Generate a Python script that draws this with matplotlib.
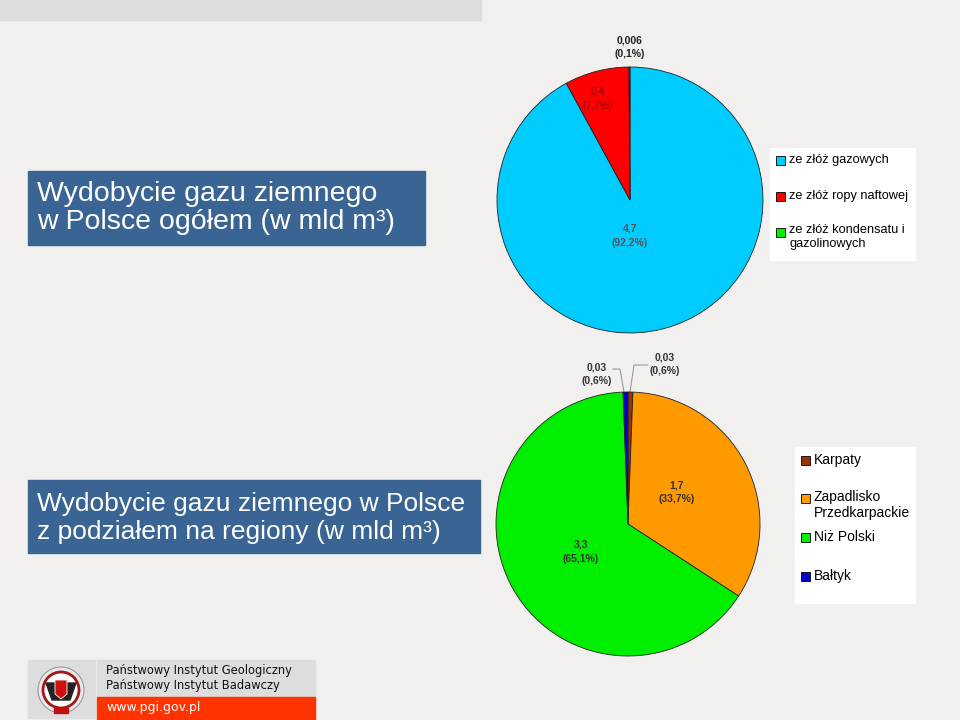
import matplotlib.pyplot as plt
from matplotlib.patches import Rectangle, Circle, Polygon

plt.rcParams["font.family"] = ["Liberation Sans", "DejaVu Sans"]

# -----------------------------
#  Data
# -----------------------------
src_labels = ["ze złóż gazowych", "ze złóż ropy naftowej", "ze złóż kondensatu i\ngazolinowych"]
src_values = [4.7, 0.4, 0.006]
src_text = ["4,7\n(92,2%)", "0,4\n(7,7%)", "0,006\n(0,1%)"]
src_colors = ["#00CCFF", "#FF0000", "#00EE00"]

reg_labels = ["Karpaty", "Zapadlisko\nPrzedkarpackie", "Niż Polski", "Bałtyk"]
reg_values = [0.03, 1.7, 3.3, 0.03]
reg_text = ["0,03\n(0,6%)", "1,7\n(33,7%)", "3,3\n(65,1%)", "0,03\n(0,6%)"]
reg_colors = ["#993300", "#FF9900", "#00EE00", "#0000CC"]

title1 = "Wydobycie gazu ziemnego\nw Polsce ogółem (w mld m³)"
title2 = "Wydobycie gazu ziemnego w Polsce\nz podziałem na regiony (w mld m³)"

BG = "#F1F0EE"
BOX = "#396493"

fig = plt.figure(figsize=(9.6, 7.2), dpi=100)
fig.patch.set_facecolor(BG)

# background canvas in pixel coordinates
bg = fig.add_axes([0, 0, 1, 1])
bg.set_xlim(0, 960)
bg.set_ylim(720, 0)
bg.axis("off")

bg.add_patch(Rectangle((0, 0), 481, 20, color="#DDDDDD"))

# title boxes
bg.add_patch(Rectangle((28, 171), 397, 74, color=BOX))
bg.text(37, 208, title1, color="white", fontsize=20.5, va="center", linespacing=1.12)
bg.add_patch(Rectangle((28, 480), 452, 73, color=BOX))
bg.text(37, 518, title2, color="white", fontsize=19, va="center", linespacing=1.22)


def legend_box(x0, y0, w, h, labels, colors, ys, fs):
    bg.add_patch(Rectangle((x0, y0), w, h, color="white"))
    for lab, c, y in zip(labels, colors, ys):
        bg.add_patch(Rectangle((x0 + 6, y - 4.5), 9, 9, facecolor=c,
                               edgecolor="black", linewidth=0.6))
        if "\n" in lab:
            bg.text(x0 + 19, y - 8, lab, fontsize=fs, va="top", linespacing=1.2)
        else:
            bg.text(x0 + 19, y, lab, fontsize=fs, va="center")


legend_box(770, 148, 145, 112, src_labels, src_colors, [160, 196, 232], 9.2)
legend_box(795, 447, 120, 156, reg_labels, reg_colors, [460, 498, 537, 576], 10)


def pie_axes(cx, cy, r):
    ax = fig.add_axes([(cx - r) / 960, (720 - cy - r) / 720, 2 * r / 960, 2 * r / 720])
    ax.set_xlim(-1, 1)
    ax.set_ylim(-1, 1)
    ax.axis("off")
    return ax


lab_kw = dict(fontsize=7.5, ha="center", va="center", linespacing=1.5)

# -----------------------------
#  Pie 1
# -----------------------------
ax1 = pie_axes(630, 200, 133)
ax1.pie(src_values, colors=src_colors, startangle=90, counterclock=False, radius=1,
        wedgeprops=dict(edgecolor="#222222", linewidth=0.6))
ax1.set_xlim(-1, 1)
ax1.set_ylim(-1, 1)
ax1.text(0.0, -0.27, src_text[0], fontweight="bold", color="#555555", **lab_kw)
ax1.text(-0.24, 0.76, src_text[1], color="#8B0000", **lab_kw)
ax1.text(0.0, 1.15, src_text[2], fontweight="bold", color="#222222", **lab_kw)

# -----------------------------
#  Pie 2
# -----------------------------
ax2 = pie_axes(628, 524, 132)
ax2.pie(reg_values, colors=reg_colors, startangle=90, counterclock=False, radius=1,
        wedgeprops=dict(edgecolor="#222222", linewidth=0.6))
ax2.set_xlim(-1, 1)
ax2.set_ylim(-1, 1)
ax2.text(0.37, 0.24, reg_text[1], fontweight="bold", color="#333333", **lab_kw)
ax2.text(-0.36, -0.21, reg_text[2], fontweight="bold", color="#333333", **lab_kw)

# small region labels with leader lines (canvas coords)
bg.text(597, 374, reg_text[3], fontweight="bold", color="#333333", **lab_kw)
bg.text(665, 364, reg_text[0], fontweight="bold", color="#333333", **lab_kw)
bg.plot([613, 620, 624], [369, 369, 392], color="#999999", lw=0.8)
bg.plot([648, 634, 630], [365, 365, 392], color="#999999", lw=0.8)

# -----------------------------
#  Footer
# -----------------------------
bg.add_patch(Rectangle((28, 660), 67, 58, color="#DDDDDD"))
bg.add_patch(Circle((61, 690), 23, facecolor="#E8E8E8", edgecolor="#999999", lw=0.8))
bg.add_patch(Circle((61, 690), 18, facecolor="white", edgecolor="#A01818", lw=2))
bg.add_patch(Polygon([[46, 683], [76, 683], [70, 700], [52, 700]], color="#222222"))
bg.add_patch(Polygon([[55, 680], [67, 680], [67, 694], [61, 699], [55, 694]],
                     facecolor="#D01010", edgecolor="white", lw=0.6))
bg.add_patch(Rectangle((54, 708), 14, 5, color="#C01010"))

bg.add_patch(Rectangle((97, 660), 218, 37, color="#DDDDDD"))
bg.add_patch(Rectangle((97, 697), 218, 23, color="#FF3300"))
bg.text(106, 678, "Państwowy Instytut Geologiczny\nPaństwowy Instytut Badawczy",
        family="DejaVu Sans", fontsize=8.3, va="center", color="#111111", linespacing=1.15)
bg.text(106, 708, "www.pgi.gov.pl", family="DejaVu Sans", fontsize=9, va="center",
        color="white")

fig.savefig("out.png", dpi=100, facecolor=fig.get_facecolor())
